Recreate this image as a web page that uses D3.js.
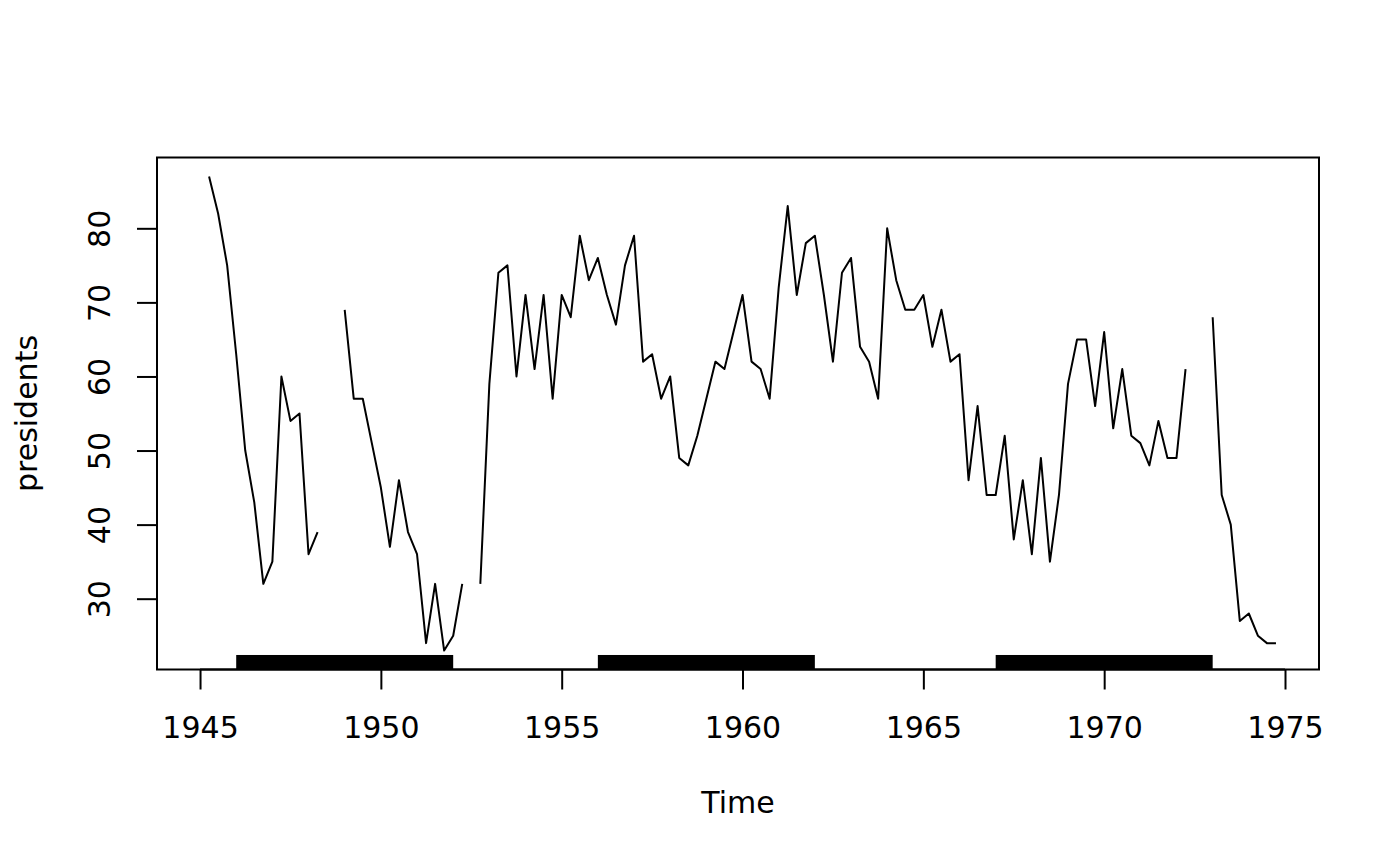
<!DOCTYPE html>
<html>
<head>
<meta charset="utf-8">
<script src="https://cdn.jsdelivr.net/npm/d3@7"></script>
<style>
  html, body { margin: 0; padding: 0; background: #fff; }
  svg text { font-family: "DejaVu Sans", sans-serif; fill: #000; }
</style>
</head>
<body>
<svg id="chart" width="1400" height="866"></svg>
<script>
// Quarterly approval ratings (R 'presidents' ts, start 1945 Q1, freq 4); null = NA
const startYear = 1945;
const frequency = 4;
const approval = [
  null, 87, 82, 75,
  63, 50, 43, 32,
  35, 60, 54, 55,
  36, 39, null, null,
  69, 57, 57, 51,
  45, 37, 46, 39,
  36, 24, 32, 23,
  25, 32, null, 32,
  59, 74, 75, 60,
  71, 61, 71, 57,
  71, 68, 79, 73,
  76, 71, 67, 75,
  79, 62, 63, 57,
  60, 49, 48, 52,
  57, 62, 61, 66,
  71, 62, 61, 57,
  72, 83, 71, 78,
  79, 71, 62, 74,
  76, 64, 62, 57,
  80, 73, 69, 69,
  71, 64, 69, 62,
  63, 46, 56, 44,
  44, 52, 38, 46,
  36, 49, 35, 44,
  59, 65, 65, 56,
  66, 53, 61, 52,
  51, 48, 54, 49,
  49, 61, null, null,
  68, 44, 40, 27,
  28, 25, 24, 24
];
// Black bars along the bottom (start year, end year)
const barStarts = [1946, 1956, 1967];
const barEnds   = [1952, 1962, 1973];
const barTopValue = 22.4;

const xTicks = [1945, 1950, 1955, 1960, 1965, 1970, 1975];
const yTicks = [30, 40, 50, 60, 70, 80];
const xLabel = "Time";
const yLabel = "presidents";

(function () {
const data = approval.map((v, i) => ({ t: startYear + i / frequency, v }));

const pLeft = 157, pRight = 1319, pTop = 157.5, pBottom = 669.5;
const svg = d3.select("#chart");

// R-style 4% axis extension
const tExt = d3.extent(data, d => d.t);
const vExt = d3.extent(data.filter(d => d.v != null), d => d.v);
const tPad = (tExt[1] - tExt[0]) * 0.04;
const vPad = (vExt[1] - vExt[0]) * 0.04;

const x = d3.scaleLinear().domain([tExt[0] - tPad, tExt[1] + tPad]).range([pLeft, pRight]);
const y = d3.scaleLinear().domain([vExt[0] - vPad, vExt[1] + vPad]).range([pBottom, pTop]);

// bars
svg.append("g").selectAll("rect")
  .data(barStarts.map((s, i) => ({ s, e: barEnds[i] })))
  .join("rect")
  .attr("x", d => x(d.s))
  .attr("width", d => x(d.e) - x(d.s))
  .attr("y", y(barTopValue))
  .attr("height", y.range()[0] - y(barTopValue))
  .attr("fill", "#000");

// line
const line = d3.line()
  .defined(d => d.v != null)
  .x(d => x(d.t))
  .y(d => y(d.v));
svg.append("path")
  .datum(data)
  .attr("d", line)
  .attr("fill", "none")
  .attr("stroke", "#000")
  .attr("stroke-width", 2)
  .attr("stroke-linejoin", "round");

// box
svg.append("rect")
  .attr("x", pLeft).attr("y", pTop)
  .attr("width", pRight - pLeft).attr("height", pBottom - pTop)
  .attr("fill", "none").attr("stroke", "#000").attr("stroke-width", 2);

// x axis
const xAxis = d3.axisBottom(x).tickValues(xTicks).tickFormat(d3.format("d"))
  .tickSize(20).tickPadding(14);
const gx = svg.append("g").attr("transform", `translate(0,${pBottom})`).call(xAxis);
gx.attr("font-family", null).attr("font-size", null);
gx.select(".domain").attr("d", `M${x(xTicks[0])},0H${x(xTicks[xTicks.length-1])}`)
  .attr("stroke", "#000").attr("stroke-width", 2);
gx.selectAll(".tick line").attr("stroke", "#000").attr("stroke-width", 2);
gx.selectAll(".tick text").attr("font-size", 30).attr("dy", null)
  .attr("y", 738 - pBottom);

// y axis
const yAxis = d3.axisLeft(y).tickValues(yTicks).tickSize(20);
const gy = svg.append("g").attr("transform", `translate(${pLeft},0)`).call(yAxis);
gy.attr("font-family", null).attr("font-size", null);
gy.select(".domain").attr("d", `M0,${y(yTicks[0])}V${y(yTicks[yTicks.length-1])}`)
  .attr("stroke", "#000").attr("stroke-width", 2);
gy.selectAll(".tick line").attr("stroke", "#000").attr("stroke-width", 2);
gy.selectAll(".tick text")
  .attr("font-size", 30)
  .attr("x", null).attr("dy", null)
  .attr("text-anchor", "middle")
  .attr("transform", `translate(${110 - pLeft},0) rotate(-90)`)
  .attr("y", 0);

// labels
svg.append("text").attr("x", (pLeft + pRight) / 2).attr("y", 813)
  .attr("text-anchor", "middle").attr("font-size", 30).text(xLabel);
svg.append("text")
  .attr("transform", `translate(37,${(pTop + pBottom) / 2}) rotate(-90)`)
  .attr("text-anchor", "middle").attr("font-size", 30).text(yLabel);
})();
</script>
</body>
</html>
